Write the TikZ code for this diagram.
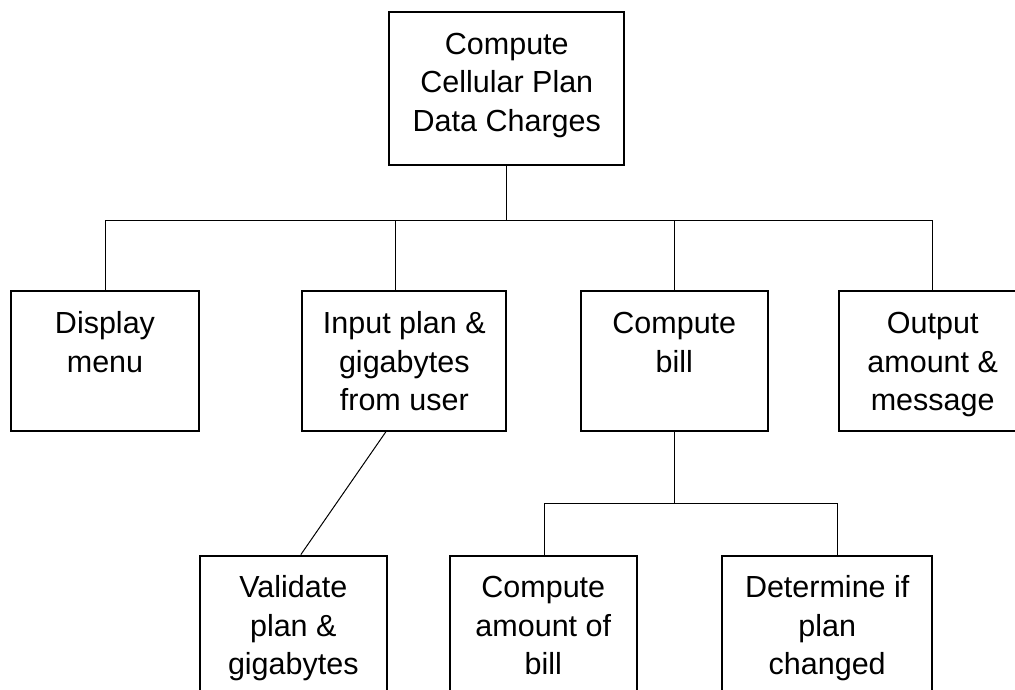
\documentclass[tikz,border=0pt]{standalone}
\usepackage{fontspec}
\setmainfont{Liberation Sans}
\begin{document}
\begin{tikzpicture}[x=1pt,y=-1pt,
  box/.style={draw, line width=2.2pt, inner sep=0pt, rectangle},
  lbl/.style={anchor=north, inner sep=0pt, align=center, font=\fontsize{30.5}{38.5}\selectfont},
  conn/.style={line width=1pt}]
\useasboundingbox (0,0) rectangle (1015,690);
\clip (0,0) rectangle (1015,690);
% boxes
\node[box, minimum width=235pt, minimum height=153.3pt] (top) at (506.8,88.3) {};
\node[box, minimum width=188pt, minimum height=139.7pt] (disp) at (105,360.8) {};
\node[box, minimum width=204pt, minimum height=139.7pt] (input) at (404.3,360.8) {};
\node[box, minimum width=187.3pt, minimum height=139.7pt] (bill) at (674.3,360.8) {};
\node[box, minimum width=187pt, minimum height=139.7pt] (out) at (932.7,360.8) {};
\node[box, minimum width=186.7pt, minimum height=160pt] (val) at (293.3,635.7) {};
\node[box, minimum width=186.7pt, minimum height=160pt] (amt) at (543.3,635.7) {};
\node[box, minimum width=210.3pt, minimum height=160pt] (det) at (827.2,635.7) {};
% labels
\node[lbl] (ltop) at (top.north) {\rule{0pt}{43.5pt}Compute\\Cellular Plan\\Data Charges};
\node[lbl] (ldisp) at (disp.north) {\rule{0pt}{43.5pt}Display\\menu};
\node[lbl] (linput) at (input.north) {\rule{0pt}{43.5pt}Input plan \&\\gigabytes\\from user};
\node[lbl] (lbill) at (bill.north) {\rule{0pt}{43.5pt}Compute\\bill};
\node[lbl] (lout) at (out.north) {\rule{0pt}{43.5pt}Output\\amount \&\\message};
\node[lbl] (lval) at (val.north) {\rule{0pt}{43pt}Validate\\plan \&\\gigabytes};
\node[lbl] (lamt) at (amt.north) {\rule{0pt}{43pt}Compute\\amount of\\bill};
\node[lbl] (ldet) at (det.north) {\rule{0pt}{43pt}Determine if\\plan\\changed};
% connectors
\coordinate (busL) at (105,220.7);
\coordinate (busR) at (932.7,220.7);
\coordinate (v2) at (395.3,220.7);
\coordinate (v3) at (674,220.7);
\draw[conn] (busL) -- (busR);
\draw[conn] (top.south) -- (top.south |- busL);
\draw[conn] (busL) -- (disp.north);
\draw[conn] (v2) -- (v2 |- input.north);
\draw[conn] (v3) -- (v3 |- bill.north);
\draw[conn] (busR) -- (out.north);
\coordinate (busBL) at (544,503.3);
\coordinate (busBR) at (837.7,503.3);
\draw[conn] (busBL) -- (busBR);
\draw[conn] (bill.south) -- (bill.south |- busBL);
\draw[conn] (busBL) -- (busBL |- amt.north);
\draw[conn] (busBR) -- (busBR |- det.north);
\draw[conn] ([xshift=84.7pt]input.south west) -- ([xshift=102pt]val.north west);
\end{tikzpicture}
\end{document}
